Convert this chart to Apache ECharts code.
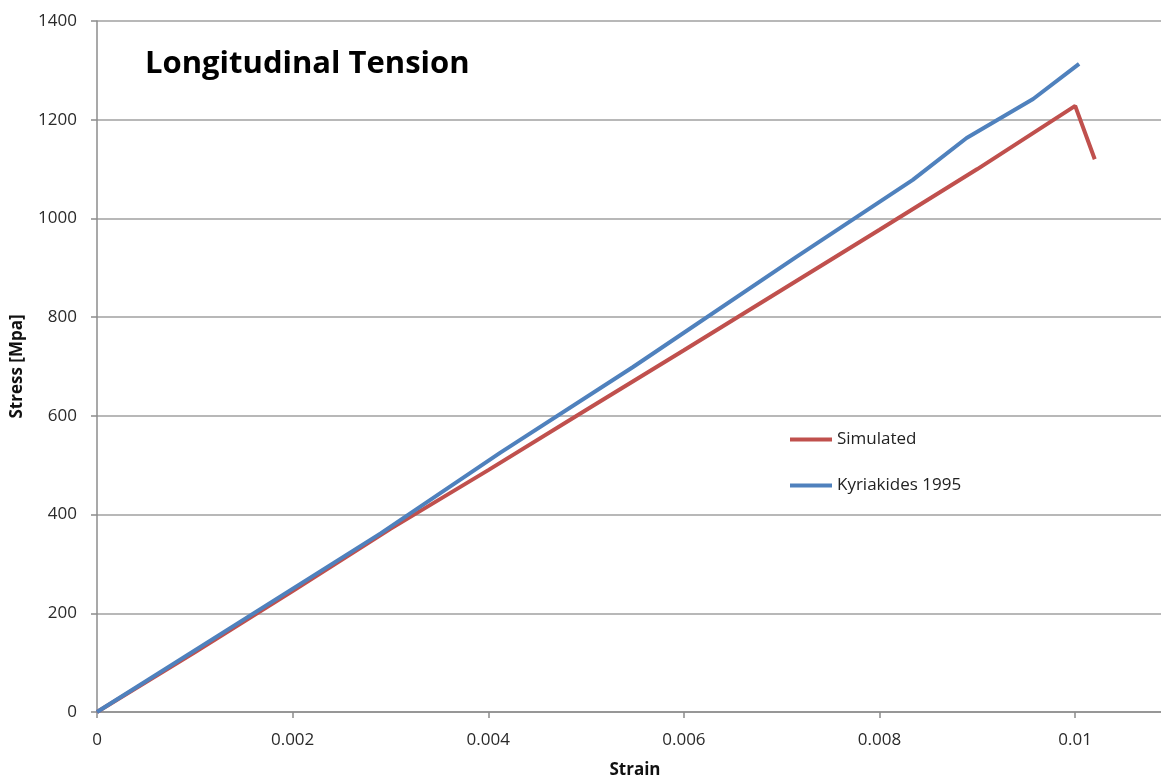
<!DOCTYPE html>
<html>
<head>
<meta charset="utf-8">
<script src="https://cdn.jsdelivr.net/npm/echarts@6/dist/echarts.min.js"></script>
<style>
html,body{margin:0;padding:0;background:#fff;}
#chart{width:1161px;height:781px;}
</style>
</head>
<body>
<div id="chart"></div>
<script>
const simStrain = [0, 0.001, 0.002, 0.003, 0.004, 0.005, 0.006, 0.007, 0.008, 0.009, 0.010, 0.0102];
const simStress = [0, 121, 245, 371, 490, 612, 733, 855, 977, 1100, 1228, 1120];
const kyrStrain = [0, 0.0029, 0.00412, 0.00548, 0.00715, 0.00834, 0.00889, 0.00957, 0.01004];
const kyrStress = [0, 362, 525, 699, 922, 1078, 1163, 1242, 1313];
const seriesNames = ['Simulated', 'Kyriakides 1995'];
const titleText = 'Longitudinal Tension';
const xTitle = 'Strain';
const yTitle = 'Stress [Mpa]';

const pairs = (xs, ys) => xs.map((x, i) => [x, ys[i]]);
const chart = echarts.init(document.getElementById('chart'));
const labelFont = { fontFamily: 'Open Sans', fontSize: 17, color: '#2a2a2a' };
chart.setOption({
  backgroundColor: '#fff',
  animation: false,
  title: {
    text: titleText, left: 140, top: 44,
    textStyle: { fontFamily: 'Open Sans', fontWeight: 'bold', fontSize: 31, color: '#000' }
  },
  legend: {
    orient: 'vertical', left: 785, top: 426, itemGap: 29,
    itemWidth: 42, itemHeight: 4, icon: 'rect',
    textStyle: { fontFamily: 'Open Sans', fontSize: 17, color: '#222' },
    data: seriesNames
  },
  grid: { left: 97, top: 21, bottom: 69, right: -12, containLabel: false, outerBoundsMode: 'none' },
  xAxis: {
    type: 'value', min: 0, max: 0.011, interval: 0.002,
    name: xTitle, nameLocation: 'middle', nameGap: 50,
    nameTextStyle: { fontFamily: 'Open Sans', fontWeight: 'bold', fontSize: 17, color: '#111' },
    axisLine: { lineStyle: { color: '#8c8c8c', width: 1.5 } },
    axisTick: { show: true, length: 6, lineStyle: { color: '#8c8c8c', width: 1.5 } },
    axisLabel: { ...labelFont, margin: 20, showMaxLabel: false,
      formatter: v => String(+v.toFixed(4)) },
    splitLine: { show: false }
  },
  yAxis: {
    type: 'value', min: 0, max: 1400, interval: 200,
    name: yTitle, nameLocation: 'middle', nameGap: 71, nameRotate: 90,
    nameTextStyle: { fontFamily: 'Open Sans', fontWeight: 'bold', fontSize: 17, color: '#111' },
    axisLine: { show: true, lineStyle: { color: '#8c8c8c', width: 1.5 } },
    axisTick: { show: true, length: 6, lineStyle: { color: '#8c8c8c', width: 1.5 } },
    axisLabel: { ...labelFont, margin: 20, formatter: v => String(v) },
    splitLine: { show: true, lineStyle: { color: '#a0a0a0', width: 1.5 } }
  },
  series: [
    { name: seriesNames[0], type: 'line', data: pairs(simStrain, simStress), symbol: 'none',
      lineStyle: { color: '#C0504D', width: 4 }, itemStyle: { color: '#C0504D' } },
    { name: seriesNames[1], type: 'line', data: pairs(kyrStrain, kyrStress), symbol: 'none',
      lineStyle: { color: '#4F81BD', width: 4 }, itemStyle: { color: '#4F81BD' } }
  ]
});
</script>
</body>
</html>
